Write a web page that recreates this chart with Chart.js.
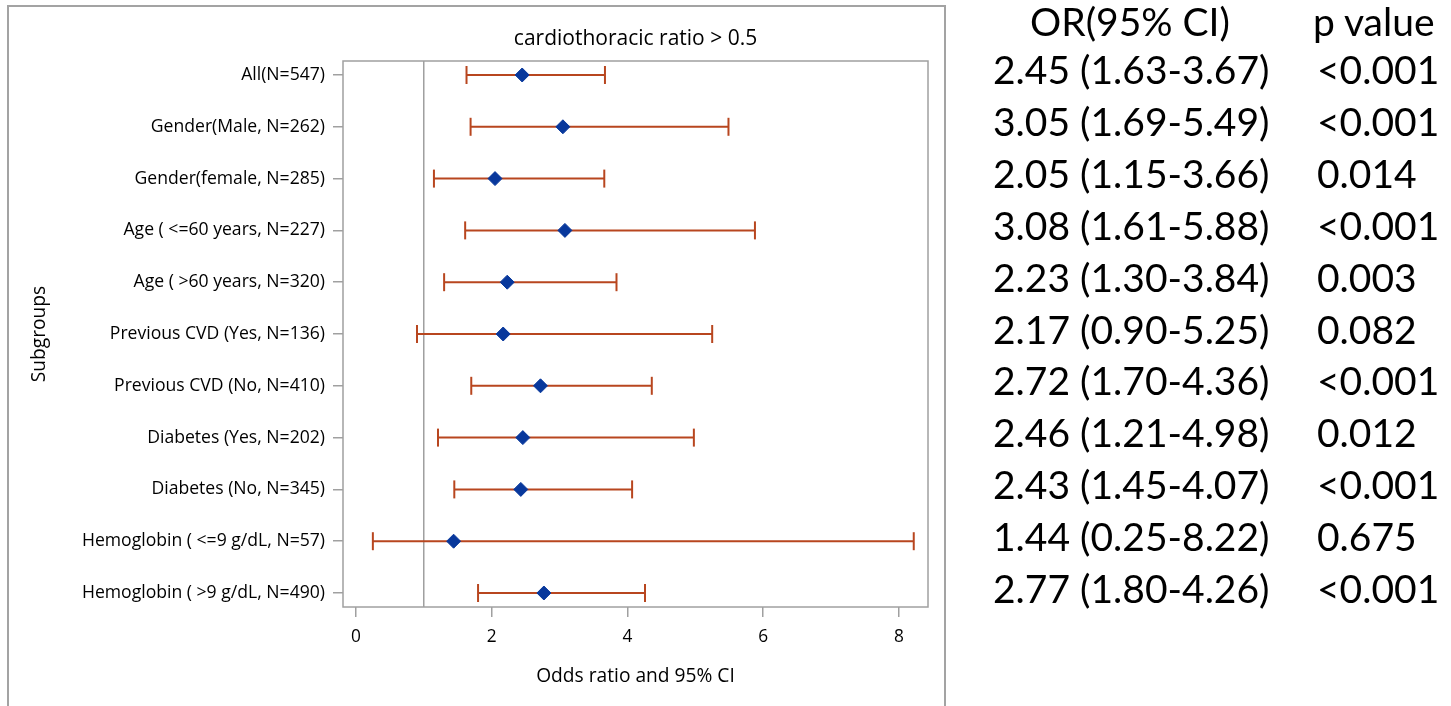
<!DOCTYPE html>
<html>
<head>
<meta charset="utf-8">
<script src="https://cdn.jsdelivr.net/npm/chart.js@4.4.0/dist/chart.umd.min.js"></script>
<style>
  html, body { margin: 0; padding: 0; background: #fff; overflow: hidden; }
  #wrap { position: relative; width: 1451px; height: 706px; }
  #frame { position: absolute; left: 7px; top: 5px; width: 935px; height: 720px;
           border: 2px solid #a3a3a3; border-bottom: none; }
  #plot { position: absolute; left: 0; top: 0; }
  .cell { position: absolute; font-family: Lato, sans-serif; font-size: 39px;
          line-height: 39px; color: #000; white-space: nowrap; }
</style>
</head>
<body>
<div id="wrap">
  <div id="frame"></div>
  <canvas id="plot" width="1451" height="706"></canvas>
  <div id="table"></div>
</div>
<script>
const subgroups = [
  'All(N=547)',
  'Gender(Male, N=262)',
  'Gender(female, N=285)',
  'Age ( <=60 years, N=227)',
  'Age ( >60 years, N=320)',
  'Previous CVD (Yes, N=136)',
  'Previous CVD (No, N=410)',
  'Diabetes (Yes, N=202)',
  'Diabetes (No, N=345)',
  'Hemoglobin ( <=9 g/dL, N=57)',
  'Hemoglobin ( >9 g/dL, N=490)',
];
const orValues = [2.45, 3.05, 2.05, 3.08, 2.23, 2.17, 2.72, 2.46, 2.43, 1.44, 2.77];
const ciLow = [1.63, 1.69, 1.15, 1.61, 1.30, 0.90, 1.70, 1.21, 1.45, 0.25, 1.80];
const ciHigh = [3.67, 5.49, 3.66, 5.88, 3.84, 5.25, 4.36, 4.98, 4.07, 8.22, 4.26];
const pValues = ['<0.001', '<0.001', '0.014', '<0.001', '0.003', '0.082', '<0.001', '0.012', '<0.001', '0.675', '<0.001'];
const xTicks = [0, 2, 4, 6, 8];
const refLine = 1;
const xMin = -0.19;
const xMax = 8.43;
const yMin = -0.27;
const yMax = subgroups.length - 1 + 0.27;

const GRAY = '#a0a0a0';
const BAR = '#b8461f';
const DOT = '#08389c';

// right-hand table (real text), rows get aligned to the y scale after render
const tableEl = document.getElementById('table');
function cell(text, left, top) {
  const el = document.createElement('div');
  el.className = 'cell';
  el.textContent = text;
  el.style.left = left + 'px';
  if (top != null) el.style.top = top + 'px';
  tableEl.appendChild(el);
  return el;
}
cell('OR(95% CI)', 1030, 2);
cell('p value', 1313, 2);
const rowEls = subgroups.map((_, i) => [
  cell(`${orValues[i].toFixed(2)} (${ciLow[i].toFixed(2)}-${ciHigh[i].toFixed(2)})`, 993),
  cell(pValues[i], 1317),
]);

const frameBox = {
  id: 'frameBox',
  afterDatasetsDraw(c) {
    const { ctx, chartArea: a } = c;
    ctx.save();
    ctx.strokeStyle = GRAY;
    ctx.lineWidth = 1.5;
    ctx.strokeRect(a.left, a.top, a.right - a.left, a.bottom - a.top);
    ctx.restore();
  },
};

const placeRows = {
  id: 'placeRows',
  afterRender(c) {
    const y = c.scales.y;
    rowEls.forEach((els, i) => {
      const top = y.getPixelForValue(i) - 24.5;
      els.forEach((el) => { el.style.top = top + 'px'; });
    });
  },
};

const ciPoints = [];
subgroups.forEach((_, i) => {
  ciPoints.push({ x: ciLow[i], y: i }, { x: ciHigh[i], y: i }, { x: null, y: null });
});

Chart.defaults.font.family = "'Open Sans', sans-serif";
Chart.defaults.color = '#000';

new Chart(document.getElementById('plot'), {
  type: 'scatter',
  data: {
    datasets: [
      {
        label: 'OR',
        data: orValues.map((v, i) => ({ x: v, y: i })),
        pointStyle: 'rectRot',
        pointRadius: 7,
        pointBackgroundColor: DOT,
        pointBorderColor: DOT,
        pointBorderWidth: 1,
        order: 0,
      },
      {
        label: '95% CI',
        data: ciPoints,
        showLine: true,
        spanGaps: false,
        borderColor: BAR,
        borderWidth: 2,
        pointStyle: 'line',
        pointRotation: 90,
        pointRadius: 9,
        pointBorderColor: BAR,
        pointBorderWidth: 2,
        order: 1,
      },
      {
        label: 'ref',
        data: [{ x: refLine, y: yMin }, { x: refLine, y: yMax }],
        showLine: true,
        borderColor: GRAY,
        borderWidth: 1.5,
        pointRadius: 0,
        order: 2,
      },
    ],
  },
  options: {
    responsive: false,
    animation: false,
    events: [],
    layout: { padding: { left: 0, top: 0, right: 1451 - 928, bottom: 0 } },
    plugins: { legend: { display: false }, tooltip: { enabled: false } },
    scales: {
      x: {
        type: 'linear',
        position: 'bottom',
        min: xMin,
        max: xMax,
        afterBuildTicks: (s) => { s.ticks = xTicks.map((v) => ({ value: v })); },
        afterFit: (s) => { s.height = 99; },
        border: { display: false },
        grid: { drawOnChartArea: false, drawTicks: true, tickLength: 10, color: GRAY, lineWidth: 1.5 },
        ticks: { font: { size: 17.3 }, padding: 10, maxRotation: 0 },
        title: {
          display: true,
          text: 'Odds ratio and 95% CI',
          font: { size: 19.2 },
          padding: { top: 0, bottom: 17.5 },
        },
      },
      x2: {
        type: 'linear',
        axis: 'x',
        position: 'top',
        grid: { display: false },
        ticks: { display: false },
        border: { display: false },
        afterFit: (s) => { s.height = 61; },
        title: {
          display: true,
          text: 'cardiothoracic ratio > 0.5',
          font: { size: 21 },
          padding: { top: 26, bottom: 0 },
        },
      },
      y: {
        type: 'linear',
        reverse: true,
        min: yMin,
        max: yMax,
        afterBuildTicks: (s) => { s.ticks = subgroups.map((_, i) => ({ value: i })); },
        afterFit: (s) => { s.width = 343; },
        border: { display: false },
        grid: { drawOnChartArea: false, drawTicks: true, tickLength: 10, color: GRAY, lineWidth: 1.5 },
        ticks: { font: { size: 17.6 }, padding: 8, callback: (v) => subgroups[v] },
        title: {
          display: true,
          text: 'Subgroups',
          font: { size: 19.2 },
          padding: { top: 28, bottom: 0 },
        },
      },
    },
  },
  plugins: [frameBox, placeRows],
});
</script>
</body>
</html>
